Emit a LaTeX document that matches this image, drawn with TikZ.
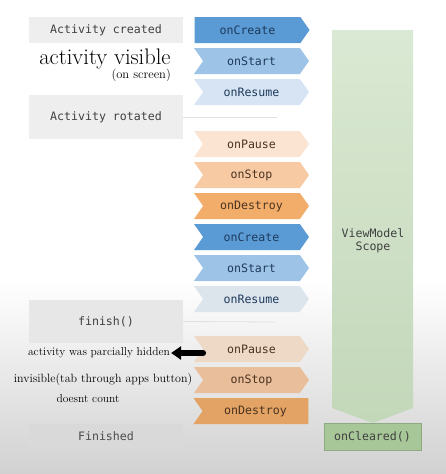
\documentclass[tikz,border=0pt]{standalone}
\usepackage{fontspec}
\usepackage{tikz}
\usetikzlibrary{positioning, arrows.meta, shapes.symbols}

\newfontfamily\codefont{DejaVu Sans Mono}

\definecolor{blueA}{HTML}{5B9BD5}
\definecolor{blueB}{HTML}{9DC3E6}
\definecolor{blueC}{HTML}{D6E4F3}
\definecolor{orangeA}{HTML}{FBE4D1}
\definecolor{orangeB}{HTML}{F8CAA4}
\definecolor{orangeC}{HTML}{F2AD6B}
\definecolor{blueText}{HTML}{1E3A5C}
\definecolor{brownText}{HTML}{4A3320}
\definecolor{boxGray}{HTML}{EEEEEE}
\definecolor{scopeTop}{HTML}{DAE9D3}
\definecolor{scopeBot}{HTML}{C3D7B9}
\definecolor{clearedGreen}{HTML}{A8C799}

\begin{document}
\begin{tikzpicture}[
  x=1pt, y=-1pt,
  font=\codefont\fontsize{11.6}{13}\selectfont,
  % --- node styles ---
  chev/.style={
    shape=signal, signal to=east, signal from=west,
    signal pointer angle=110,
    minimum width=115pt, minimum height=26pt,
    inner sep=0pt, outer sep=0pt
  },
  chevfirst/.style={chev, signal from=nowhere},
  chevlast/.style={chev, signal to=nowhere, xshift=4pt},
  blu/.style={fill=#1, text=blueText},
  ora/.style={fill=#1, text=brownText},
  state/.style={
    fill=boxGray, text=black!75,
    minimum width=154pt, inner sep=0pt
  },
  note/.style={
    font=\fontsize{11.5}{13}\selectfont, inner sep=0pt
  },
  faint/.style={draw=black!12, line width=0.8pt},
  bigarrow/.style={
    line width=6pt, black, line cap=round,
    -{Triangle[length=10pt, width=13pt]}
  },
]

% ══════════════════════════════════════════════
% BACKGROUND
% ══════════════════════════════════════════════

\fill[white] (0,0) rectangle (446,474);
\shade[top color=white, bottom color=gray!36] (0,280) rectangle (446,474);
\useasboundingbox (0,0) rectangle (446,474);

% ══════════════════════════════════════════════
% LIFECYCLE CHEVRONS
% ══════════════════════════════════════════════

\node[chevfirst, blu=blueA] (create1) at (247.5,30) {onCreate};
\node[chev, blu=blueB] (start1) at (251.5,61) {onStart};
\node[chev, blu=blueC, below=5pt of start1] (resume1) {onResume};

\node[chev, ora=orangeA, below=26pt of resume1] (pause1) {onPause};
\node[chev, ora=orangeB, below=5pt of pause1] (stop1) {onStop};
\node[chev, ora=orangeC, below=5pt of stop1] (destroy1) {onDestroy};
\node[chev, blu=blueA, below=5pt of destroy1] (create2) {onCreate};
\node[chev, blu=blueB, below=5pt of create2] (start2) {onStart};
\node[chev, blu=blueC!92!black!60, below=5pt of start2] (resume2) {onResume};

\node[chev, ora=orangeA!95!black, below=24pt of resume2] (pause2) {onPause};
\node[chev, ora=orangeB!94!black, below=5pt of pause2] (stop2) {onStop};
\node[chevlast, ora=orangeC!94!black, below=5pt of stop2] (destroy2) {onDestroy};

% ══════════════════════════════════════════════
% ACTIVITY STATES (left)
% ══════════════════════════════════════════════

\node[state, minimum height=26pt] (created) at (106,30) {Activity created};
\node[state, minimum height=44pt] (rotated) at (106,117) {Activity rotated};
\node[state, minimum height=43pt, fill=boxGray!97!black] (finish) at (106,321.5) {finish()};
\node[state, minimum height=25pt, fill=black!15, text=black!70] (finished) at (106,436.5) {Finished};

\coordinate (rotEnd) at (277,117);
\coordinate (finEnd) at (275,322);
\draw[faint] (rotated.east) -- (rotEnd);
\draw[faint] (finish.east) -- (finEnd);

% ══════════════════════════════════════════════
% VIEWMODEL SCOPE
% ══════════════════════════════════════════════

\shade[top color=scopeTop, bottom color=scopeBot]
  (332,30) -- (413,30) -- (413,408) -- (373,423) -- (332,408) -- cycle;
\node[align=center, text=black!75] (scope) at (373,241) {ViewModel\\Scope};

\node[fill=clearedGreen, draw=clearedGreen!85!black, line width=0.4pt,
  minimum width=97pt, minimum height=27pt, inner sep=0pt, text=black!75]
  (cleared) at (372.5,436.5) {onCleared()};

% ══════════════════════════════════════════════
% HANDWRITTEN NOTES
% ══════════════════════════════════════════════

\node[note, font=\fontsize{22.5}{24}\selectfont] (visible) at (105,58.5) {activity visible};
\node[note, font=\fontsize{12.5}{13}\selectfont, anchor=east] (onscreen) at (171,75.5) {(on screen)};

\node[note] (hidden) at (99,353) {activity was parcially hidden};
\node[note, font=\fontsize{12}{13}\selectfont] (tabbing) at (103,380) {invisible(tab through apps button)};
\node[note] (nocount) at (88,399) {doesnt count};

\draw[bigarrow] (pause2.west |- hidden) -- ([xshift=1pt]hidden.east);

\end{tikzpicture}
\end{document}
